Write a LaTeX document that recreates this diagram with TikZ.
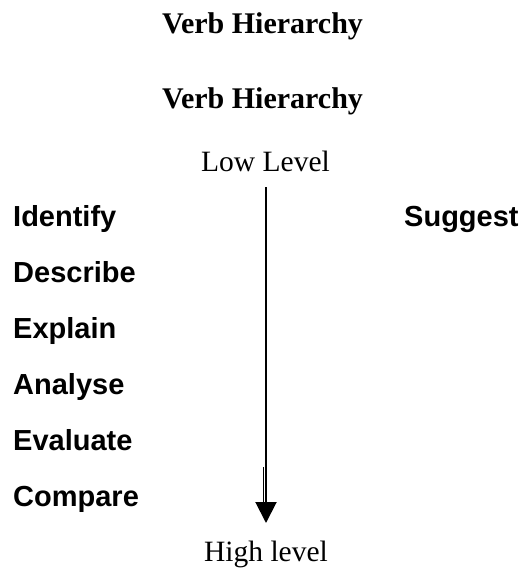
\documentclass[tikz,border=0pt]{standalone}
\usepackage{fontspec}
\setmainfont{Liberation Serif}
\newfontfamily\verbfont{Liberation Sans}
\usetikzlibrary{arrows.meta}
\tikzset{
  title/.style={anchor=base,inner sep=0pt,font=\fontsize{30}{35}\selectfont\bfseries},
  level/.style={anchor=base,inner sep=0pt,font=\fontsize{29.5}{34}\selectfont},
  verbword/.style={anchor=base west,inner sep=0pt,font=\fontsize{29}{34}\selectfont\verbfont\bfseries},
  mainline/.style={line width=2pt,-{Triangle[length=21pt,width=21pt]}},
  thinline/.style={line width=1pt}
}
\begin{document}
\begin{tikzpicture}[x=1pt,y=-1pt]
\useasboundingbox[fill=white] (0,0) rectangle (524,568);
\node[title] (t1) at (262.5,33) {Verb Hierarchy};
\node[title] (t2) at (262.5,108) {Verb Hierarchy};
\node[level] (low) at (265.5,171) {Low Level};
\node[level] (high) at (266,561) {High level};
\node[verbword] (identify) at (13,226) {Identify};
\node[verbword] (describe) at (13,282) {Describe};
\node[verbword] (explain) at (13,338) {Explain};
\node[verbword] (analyse) at (13,394) {Analyse};
\node[verbword] (evaluate) at (13,450) {Evaluate};
\node[verbword] (compare) at (13,506) {Compare};
\node[verbword] (suggest) at (404,226) {Suggest};
\coordinate (top) at (266,187);
\coordinate (tip) at (266,523);
\coordinate (t1a) at (263,467);
\coordinate (t1b) at (263,503);
\draw[mainline] (top) -- (tip);
\draw[thinline] (t1a) -- (t1b);
\end{tikzpicture}
\end{document}
